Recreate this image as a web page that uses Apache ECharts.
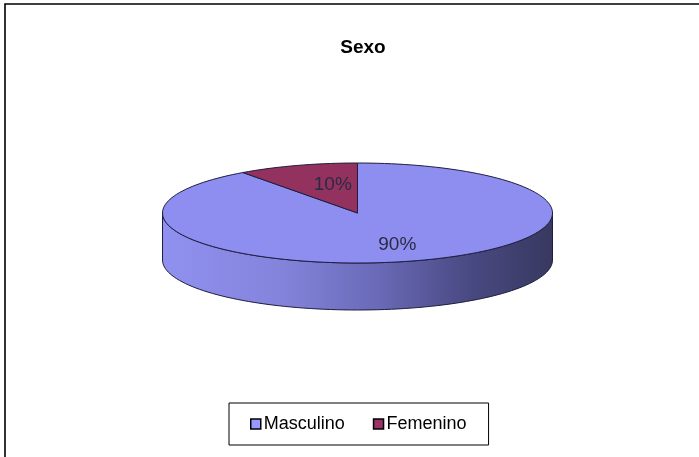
<!DOCTYPE html>
<html>
<head>
<meta charset="utf-8">
<style>
  html, body { margin: 0; padding: 0; background: #fff; }
  #chart { width: 699px; height: 457px; }
</style>
<script src="https://cdn.jsdelivr.net/npm/echarts@6/dist/echarts.min.js"></script>
</head>
<body>
<div id="chart"></div>
<script>
// Share of respondents by sex (percent)
const categories = ['Masculino', 'Femenino'];
const values = [90, 10];
const titleText = 'Sexo';

// Top-face colours and the shaded front wall
const topColors = ['#8e8ef0', '#93325f'];
const legendColors = ['#9999ff', '#993366'];
const outline = '#1e1e40';

// Tilted pie geometry: ellipse centre, radii and wall depth
const PIE = { cx: 357.5, cy: 213, rx: 195, ry: 50, depth: 47 };
// Label placement as a fraction of the radius along the slice mid-angle
const labelReach = [{ fx: 0.66, fy: 0.67 }, { fx: 0.41, fy: 0.59 }];

const total = values.reduce((a, b) => a + b, 0);

// angle in degrees, clockwise from 12 o'clock
function pt(deg, dy) {
  const r = deg * Math.PI / 180;
  return [PIE.cx + PIE.rx * Math.sin(r), PIE.cy - PIE.ry * Math.cos(r) + (dy || 0)];
}
function arcPoints(a, b, dy) {
  const pts = [];
  const n = Math.max(2, Math.ceil(Math.abs(b - a) / 2));
  for (let i = 0; i <= n; i++) pts.push(pt(a + (b - a) * i / n, dy));
  return pts;
}

function sliceRange(idx) {
  let start = 0;
  for (let i = 0; i < idx; i++) start += values[i] / total * 360;
  return [start, start + values[idx] / total * 360];
}

function wallGradient() {
  return {
    type: 'linear', global: true,
    x: PIE.cx - PIE.rx, y: 0, x2: PIE.cx + PIE.rx, y2: 0,
    colorStops: [
      { offset: 0, color: '#9090f0' },
      { offset: 0.3, color: '#8484dc' },
      { offset: 0.55, color: '#6a6ab8' },
      { offset: 0.78, color: '#4a4a84' },
      { offset: 1, color: '#383860' }
    ]
  };
}

function makeSeries(idx) {
  return {
    type: 'custom',
    name: categories[idx],
    coordinateSystem: 'none',
    itemStyle: { color: legendColors[idx] },
    data: [values[idx]],
    silent: true,
    renderItem: function () {
      const [a, b] = sliceRange(idx);
      const children = [];
      // front wall: only the part of the rim facing the viewer (90..270 deg)
      const fa = Math.max(a, 90), fb = Math.min(b, 270);
      if (fb > fa) {
        const upper = arcPoints(fa, fb, 0);
        const lower = arcPoints(fb, fa, PIE.depth);
        children.push({
          type: 'polygon', z2: 1,
          shape: { points: upper.concat(lower) },
          style: { fill: wallGradient(), stroke: outline, lineWidth: 1 }
        });
      }
      // top face
      const top = [[PIE.cx, PIE.cy]].concat(arcPoints(a, b, 0));
      children.push({
        type: 'polygon', z2: 5,
        shape: { points: top },
        style: { fill: topColors[idx], stroke: outline, lineWidth: 1, lineJoin: 'round' }
      });
      // percentage label
      const mid = (a + b) / 2 * Math.PI / 180;
      const lr = labelReach[idx];
      const pct = Math.round(values[idx] / total * 100) + '%';
      children.push({
        type: 'text', z2: 10,
        style: {
          text: pct,
          x: PIE.cx + PIE.rx * lr.fx * Math.sin(mid),
          y: PIE.cy - PIE.ry * lr.fy * Math.cos(mid),
          fill: '#2a2a44',
          font: '19px "Liberation Sans", Arial, sans-serif',
          align: 'center', verticalAlign: 'middle'
        }
      });
      return { type: 'group', children: children };
    }
  };
}

const chart = echarts.init(document.getElementById('chart'), null, { renderer: 'canvas' });
chart.setOption({
  backgroundColor: '#ffffff',
  animation: false,
  title: {
    text: titleText,
    left: 358, top: 33, textAlign: 'center',
    textStyle: { fontFamily: '"Liberation Sans", Arial, sans-serif', fontWeight: 'bold', fontSize: 19, color: '#000' }
  },
  legend: {
    data: categories.map((c, i) => ({ name: c, icon: 'rect', itemStyle: { color: legendColors[i], borderColor: '#000', borderWidth: 1.5 } })),
    left: 229, top: 403,
    padding: [12, 22, 12, 21],
    itemWidth: 10, itemHeight: 10, itemGap: 28,
    borderColor: '#000', borderWidth: 1,
    textStyle: { fontFamily: '"Liberation Sans", Arial, sans-serif', fontSize: 18, color: '#000', padding: [0, 0, 0, -2] },
    selectedMode: false
  },
  graphic: [{
    type: 'rect', silent: true,
    shape: { x: 5, y: 4, width: 760, height: 520 },
    style: { fill: 'none', stroke: '#000', lineWidth: 1.6 }
  }],
  series: categories.map((c, i) => makeSeries(i))
});
</script>
</body>
</html>
